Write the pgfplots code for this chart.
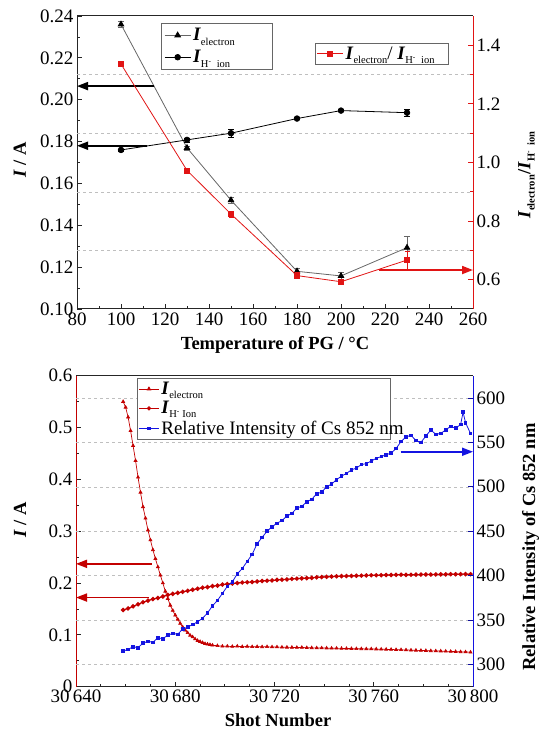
\documentclass[border=0pt]{standalone}
\usepackage{fontspec}
\setmainfont{Liberation Serif}
\usepackage{pgfplots}
\pgfplotsset{compat=1.18}
\usetikzlibrary{arrows.meta}
\definecolor{myred}{RGB}{225,20,20}
\definecolor{dred}{RGB}{195,0,0}
\definecolor{myblue}{RGB}{20,20,225}
\newcommand{\Iel}{\textbf{\textit{I}}\raisebox{-0.5ex}{\fontsize{10.5}{10.5}\selectfont electron}}
\newcommand{\IH}{\textbf{\textit{I}}\raisebox{-0.5ex}{\fontsize{10.5}{10.5}\selectfont H\textsuperscript{-}\ \ ion}}
\newcommand{\IHb}{\textbf{\textit{I}}\raisebox{-0.45ex}{\fontsize{10.5}{10.5}\selectfont H\textsuperscript{-} Ion}}
\pgfplotsset{
  base/.style={scale only axis, clip=false, tick align=inside,
    /pgf/number format/assume math mode=true,
    tick label style={font=\fontsize{19}{19}\selectfont},
    label style={font=\bfseries\fontsize{18.5}{18.5}\selectfont},
    axis line style={line width=1pt, black!85},
    major tick length=5pt, minor tick length=3pt,
    every tick/.style={line width=0.8pt, black!85},
    legend style={font=\fontsize{19}{19}\selectfont, draw=black!60, line width=0.6pt,
      cells={anchor=west}, inner sep=1.5pt, row sep=0pt},
    legend image code/.code={\draw[mark repeat=2,mark phase=2,##1] plot coordinates {(0pt,0pt) (13pt,0pt) (26pt,0pt)};},
  }
}
\begin{document}
\begin{tikzpicture}
\useasboundingbox (0pt,0pt) rectangle (542pt,730pt);

% ---------------- top panel, left axis ----------------
\begin{axis}[base, at={(77pt,421pt)}, anchor=south west, width=396pt, height=293pt,
  xmin=80, xmax=260, ymin=0.10, ymax=0.24,
  axis x line*=box, axis y line*=left, xtick pos=left,
  tick align=inside,
  xtick={80,100,120,140,160,180,200,220,240,260}, minor x tick num=1,
  ytick={0.10,0.12,0.14,0.16,0.18,0.20,0.22,0.24}, minor y tick num=1,
  yticklabel style={/pgf/number format/.cd, fixed, fixed zerofill, precision=2},
  extra y ticks={0.128,0.156,0.184,0.212}, extra y tick labels={},
  extra y tick style={ymajorgrids=true, major tick length=0pt, major grid style={black!25, dashed, line width=0.5pt}},
  xlabel={Temperature of PG / °C}, ylabel={\textit{I} / A},
  xlabel style={at={(axis description cs:0.5,-0.123)}, anchor=center},
  ylabel style={at={(axis description cs:-0.144,0.509)}, anchor=center},
  legend style={at={(0.212,0.976)}, anchor=north west, row sep=4pt, inner sep=3pt},
]
\addplot[black!60, line width=0.8pt, mark=triangle*, mark size=3.2pt, mark options={black, fill=black},
  error bars/.cd, y dir=both, y explicit, error bar style={black!60, line width=0.6pt}]
  coordinates {(100,0.236)+-(0,0.0015) (130,0.177)+-(0,0.001) (150,0.152)+-(0,0.0015)
               (180,0.118)+-(0,0.0015) (200,0.1158)+-(0,0.002) (230,0.1293)+-(0,0.0055)};
\addlegendentry{\makebox[74pt][l]{\Iel}}
\addplot[black, line width=0.8pt, mark=*, mark size=2.8pt,
  error bars/.cd, y dir=both, y explicit, error bar style={black, line width=0.6pt}]
  coordinates {(100,0.176)+-(0,0.0005) (130,0.1808)+-(0,0.001) (150,0.184)+-(0,0.002)
               (180,0.191)+-(0,0.0005) (200,0.1948)+-(0,0.0005) (230,0.1938)+-(0,0.0015)};
\addlegendentry{\makebox[74pt][l]{\IH}}
\draw[-{Triangle[length=11pt,width=8pt]}, line width=1.8pt, black] (115,0.2065) -- (80,0.2065);
\draw[-{Triangle[length=11pt,width=8pt]}, line width=1.8pt, black] (111.7,0.178) -- (80,0.178);
\end{axis}

% ---------------- top panel, right axis ----------------
\begin{axis}[base, at={(77pt,421pt)}, anchor=south west, width=396pt, height=293pt,
  xmin=80, xmax=260, ymin=0.5, ymax=1.5,
  axis x line=none, axis y line*=right, y axis line style={myred},
  every tick/.append style={myred},
  ytick={0.6,0.8,1.0,1.2,1.4}, minor ytick={0.7,0.9,1.1,1.3},
  yticklabel style={/pgf/number format/.cd, fixed, fixed zerofill, precision=1},
  ylabel={\Iel/\IH},
  ylabel style={at={(axis description cs:1.135,0.457)}, anchor=center},
  legend style={at={(0.601,0.908)}, anchor=north west},
]
\addplot[myred, line width=0.8pt, mark=square*, mark size=2.5pt,
  error bars/.cd, y dir=both, y explicit, error bar style={myred, line width=0.6pt}]
  coordinates {(100,1.336)+-(0,0.005) (130,0.973)+-(0,0.005) (150,0.824)+-(0,0.01)
               (180,0.614)+-(0,0.01) (200,0.593)+-(0,0.01) (230,0.667)+-(0,0.03)};
\addlegendentry{\makebox[99pt][l]{\Iel/ \IH}}
\draw[-{Triangle[length=11pt,width=8pt]}, line width=1.8pt, myred] (217.3,0.633) -- (260,0.633);
\end{axis}

% ---------------- bottom panel, left axis ----------------
\begin{axis}[base, at={(76pt,43.3pt)}, anchor=south west, width=397pt, height=311pt,
  xmin=30640, xmax=30800, ymin=0, ymax=0.6,
  axis x line*=box, axis y line*=left, xtick pos=left, y axis line style={dred},
  tick align=inside, scaled x ticks=false,
  xtick={30640,30680,30720,30760,30800},
  xticklabels={30\,640,30\,680,30\,720,30\,760,30\,800}, minor x tick num=3,
  ytick={0,0.1,0.2,0.3,0.4,0.5,0.6}, minor y tick num=1,
  extra y ticks={0.04286,0.1286,0.2143,0.3,0.3857,0.4714,0.5571}, extra y tick labels={},
  extra y tick style={ymajorgrids=true, major tick length=0pt, major grid style={black!25, dashed, line width=0.5pt}},
  xlabel={Shot Number}, ylabel={\textit{I} / A},
  xlabel style={at={(axis description cs:0.509,-0.107)}, anchor=center},
  ylabel style={at={(axis description cs:-0.141,0.536)}, anchor=center},
]
\addplot[dred, line width=0.7pt, mark=triangle*, mark size=1.7pt] coordinates {
(30659,0.550) (30660,0.539) (30661,0.520) (30662,0.494) (30663,0.465) (30664,0.436)
(30665,0.404) (30666,0.375) (30667,0.347) (30668,0.325) (30669,0.302) (30670,0.283)
(30671,0.264) (30672,0.247) (30673,0.231) (30674,0.215) (30675,0.200) (30676,0.184)
(30677,0.170) (30678,0.157) (30679,0.147) (30680,0.138) (30681,0.130) (30682,0.122)
(30683,0.115) (30684,0.109) (30685,0.104) (30686,0.099) (30687,0.096) (30688,0.092)
(30689,0.089) (30690,0.087) (30691,0.085) (30692,0.083) (30693,0.082) (30694,0.081)
(30695,0.080) (30697,0.079) (30699,0.078) (30701,0.078) (30703,0.0775) (30705,0.078)
(30707,0.0772) (30709,0.0775) (30711,0.077) (30713,0.0772) (30715,0.0768) (30717,0.077)
(30719,0.0766) (30721,0.0765) (30723,0.0762) (30725,0.076) (30727,0.0758) (30729,0.0756)
(30731,0.0757) (30733,0.0752) (30735,0.075) (30737,0.0748) (30739,0.0747) (30741,0.0744)
(30743,0.0742) (30745,0.0741) (30747,0.0738) (30749,0.0736) (30751,0.0735) (30753,0.0732)
(30755,0.0731) (30757,0.0729) (30759,0.0728) (30761,0.0725) (30763,0.0722) (30765,0.072)
(30767,0.0718) (30769,0.0714) (30771,0.0712) (30773,0.0708) (30775,0.0705) (30777,0.0702)
(30779,0.0699) (30781,0.0696) (30783,0.0692) (30785,0.069) (30787,0.0686) (30789,0.0683)
(30791,0.068) (30793,0.0677) (30795,0.0673) (30797,0.067) (30799,0.0665)};
\addplot[dred, line width=1.2pt, mark=*, mark size=1.6pt] coordinates {
(30659,0.148) (30661,0.151) (30663,0.155) (30665,0.159) (30667,0.163) (30669,0.166)
(30671,0.169) (30673,0.171) (30675,0.174) (30677,0.177) (30679,0.179) (30681,0.181)
(30683,0.183) (30685,0.185) (30687,0.187) (30689,0.189) (30691,0.191) (30693,0.192)
(30695,0.194) (30697,0.195) (30699,0.197) (30701,0.198) (30703,0.199) (30705,0.200)
(30707,0.201) (30709,0.2015) (30711,0.202) (30713,0.203) (30715,0.204) (30717,0.2045)
(30719,0.205) (30721,0.206) (30723,0.2065) (30725,0.207) (30727,0.208) (30729,0.2085)
(30731,0.209) (30733,0.2095) (30735,0.210) (30737,0.211) (30739,0.2115) (30741,0.212)
(30743,0.2125) (30745,0.213) (30747,0.2132) (30749,0.2135) (30751,0.2138) (30753,0.214)
(30755,0.2143) (30757,0.2146) (30759,0.215) (30761,0.215) (30763,0.2152) (30765,0.2155)
(30767,0.2156) (30769,0.2158) (30771,0.216) (30773,0.2158) (30775,0.216) (30777,0.2162)
(30779,0.2163) (30781,0.2165) (30783,0.2164) (30785,0.2166) (30787,0.2168) (30789,0.2167)
(30791,0.217) (30793,0.2169) (30795,0.2171) (30797,0.2172) (30799,0.217)};
\draw[-{Triangle[length=11pt,width=8pt]}, line width=1.8pt, dred] (30670.5,0.237) -- (30640,0.237);
\draw[-{Triangle[length=11pt,width=8pt]}, line width=1.8pt, dred] (30669.4,0.172) -- (30640,0.172);
\end{axis}

% ---------------- bottom panel, right axis ----------------
\begin{axis}[base, at={(76pt,43.3pt)}, anchor=south west, width=397pt, height=311pt,
  xmin=30640, xmax=30800, ymin=275, ymax=625,
  axis x line=none, axis y line*=right, y axis line style={myblue},
  every tick/.append style={myblue!70!black},
  ytick={300,350,400,450,500,550,600},
  ylabel={Relative Intensity of Cs 852 nm},
  ylabel style={at={(axis description cs:1.145,0.449)}, anchor=center},
  legend style={at={(0.153,0.992)}, anchor=north west, row sep=1.5pt},
  legend image code/.code={\draw[mark repeat=2,mark phase=2,#1] plot coordinates {(0pt,0pt) (10pt,0pt) (20pt,0pt)};},
]
\addlegendimage{dred, line width=0.7pt, mark=triangle*, mark size=2pt}
\addlegendentry{\Iel}
\addlegendimage{dred, line width=0.7pt, mark=*, mark size=1.8pt}
\addlegendentry{\IHb}
\addplot[myblue, line width=0.8pt, mark=square*, mark size=1.3pt] coordinates {
(30659,315) (30661,317) (30663,320) (30665,319) (30667,324) (30669,326) (30671,325)
(30673,330) (30675,329) (30677,333) (30679,335) (30681,334) (30683,340) (30685,342)
(30687,345) (30689,348) (30691,352) (30693,358) (30695,366) (30697,372) (30699,380)
(30701,388) (30703,393) (30705,402) (30707,408) (30709,416) (30711,424) (30713,436)
(30715,443) (30717,450) (30719,455) (30721,459) (30723,462) (30725,467) (30727,470)
(30729,476) (30731,478) (30733,483) (30735,486) (30737,492) (30739,494) (30741,500)
(30743,503) (30745,508) (30747,512) (30749,515) (30751,519) (30753,521) (30755,525)
(30757,526) (30759,529) (30761,532) (30763,534) (30765,536) (30767,538) (30769,543)
(30771,551) (30773,556) (30775,558) (30777,552) (30779,550) (30781,557) (30783,564)
(30785,559) (30787,560) (30789,564) (30791,568) (30793,566) (30795,570) (30796,584)
(30797,572) (30799,560)};
\addlegendentry{\makebox[225pt][l]{Relative Intensity of Cs 852 nm}}
\draw[-{Triangle[length=11pt,width=8pt]}, line width=1.8pt, myblue] (30770.8,539.4) -- (30800,539.4);
\end{axis}
\end{tikzpicture}
\end{document}
